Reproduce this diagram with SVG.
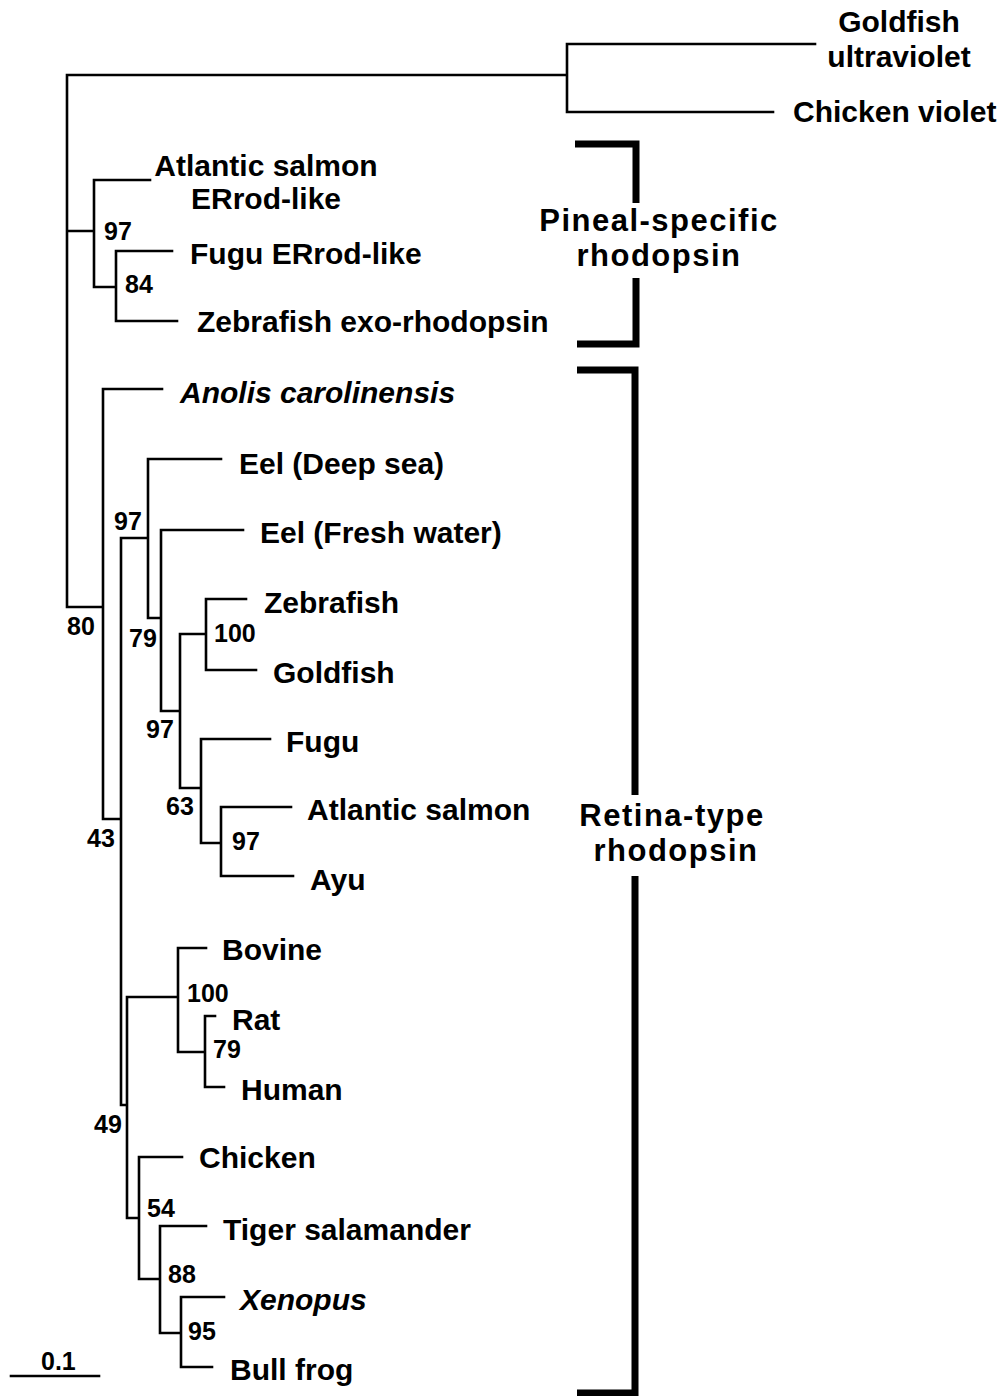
<svg xmlns="http://www.w3.org/2000/svg" width="1001" height="1396" viewBox="0 0 1001 1396">
<style>
.leaf{font-family:"Liberation Sans",Arial,sans-serif;font-weight:bold;font-size:30px;fill:#000}
.it{font-style:italic}
.bs{font-family:"Liberation Sans",Arial,sans-serif;font-weight:bold;font-size:25px;fill:#000}
.grp{font-family:"Liberation Sans",Arial,sans-serif;font-weight:bold;font-size:31px;letter-spacing:1.5px;fill:#000;text-anchor:middle}
.br{fill:none;stroke:#000;stroke-width:2.6;stroke-linecap:square}
.bk{fill:none;stroke:#000;stroke-width:7;stroke-linejoin:miter}
</style>
<rect width="1001" height="1396" fill="#fff"/>
<g id="connectors">
<path class="br" d="M67,75 V607 M67,75 H567 M567,44 V112 M567,44 H815 M567,112 H773
M67,231 H94 M94,180 V287 M94,180 H150 M94,287 H116 M116,251 V321 M116,251 H172 M116,321 H177
M67,607 H103 M103,389 V819 M103,389 H162 M103,819 H121 M121,538 V1105 M121,538 H148
M148,459 V618 M148,459 H221 M148,618 H161 M161,530 V711 M161,530 H243 M161,711 H180
M180,634 V788 M180,634 H206 M206,599 V670 M206,599 H246 M206,670 H256
M180,788 H201 M201,739 V843 M201,739 H270 M201,843 H221 M221,807 V876 M221,807 H291 M221,876 H293
M121,1105 H127 M127,997 V1218 M127,997 H178 M178,948 V1052 M178,948 H206 M178,1052 H205
M205,1016 V1087 M205,1016 H215 M205,1087 H224
M127,1218 H139 M139,1157 V1279 M139,1157 H182 M139,1279 H160 M160,1226 V1333 M160,1226 H206
M160,1333 H181 M181,1297 V1367 M181,1297 H224 M181,1367 H212"/>
</g>
<g id="scale-bar">
<path class="br" d="M11,1376 H99"/>
<text class="bs" x="41" y="1370">0.1</text>
</g>
<g id="bootstrap">
<text class="bs" x="104" y="240">97</text>
<text class="bs" x="125" y="293">84</text>
<text class="bs" x="67" y="635">80</text>
<text class="bs" x="114" y="530">97</text>
<text class="bs" x="129" y="647">79</text>
<text class="bs" x="214" y="642">100</text>
<text class="bs" x="146" y="738">97</text>
<text class="bs" x="166" y="815">63</text>
<text class="bs" x="232" y="850">97</text>
<text class="bs" x="87" y="847">43</text>
<text class="bs" x="187" y="1002">100</text>
<text class="bs" x="213" y="1058">79</text>
<text class="bs" x="94" y="1133">49</text>
<text class="bs" x="147" y="1217">54</text>
<text class="bs" x="168" y="1283">88</text>
<text class="bs" x="188" y="1340">95</text>
</g>
<g id="leaf-goldfish-uv"><text class="leaf" x="899" y="32" text-anchor="middle">Goldfish</text><text class="leaf" x="899" y="67" text-anchor="middle">ultraviolet</text></g>
<g id="leaf-chicken-violet"><text class="leaf" x="793" y="122">Chicken violet</text></g>
<g id="leaf-salmon-errod"><text class="leaf" x="266" y="176" text-anchor="middle">Atlantic salmon</text><text class="leaf" x="266" y="209" text-anchor="middle">ERrod-like</text></g>
<g id="leaf-fugu-errod"><text class="leaf" x="190" y="264">Fugu ERrod-like</text></g>
<g id="leaf-zebrafish-exo"><text class="leaf" x="197" y="332">Zebrafish exo-rhodopsin</text></g>
<g id="leaf-anolis"><text class="leaf it" x="180" y="403">Anolis carolinensis</text></g>
<g id="leaf-eel-deep"><text class="leaf" x="239" y="474">Eel (Deep sea)</text></g>
<g id="leaf-eel-fresh"><text class="leaf" x="260" y="543">Eel (Fresh water)</text></g>
<g id="leaf-zebrafish"><text class="leaf" x="264" y="613">Zebrafish</text></g>
<g id="leaf-goldfish"><text class="leaf" x="273" y="683">Goldfish</text></g>
<g id="leaf-fugu"><text class="leaf" x="286" y="752">Fugu</text></g>
<g id="leaf-salmon"><text class="leaf" x="307" y="820">Atlantic salmon</text></g>
<g id="leaf-ayu"><text class="leaf" x="310" y="890">Ayu</text></g>
<g id="leaf-bovine"><text class="leaf" x="222" y="960">Bovine</text></g>
<g id="leaf-rat"><text class="leaf" x="232" y="1030">Rat</text></g>
<g id="leaf-human"><text class="leaf" x="241" y="1100">Human</text></g>
<g id="leaf-chicken"><text class="leaf" x="199" y="1168">Chicken</text></g>
<g id="leaf-tiger"><text class="leaf" x="223" y="1240">Tiger salamander</text></g>
<g id="leaf-xenopus"><text class="leaf it" x="240" y="1310">Xenopus</text></g>
<g id="leaf-bullfrog"><text class="leaf" x="230" y="1380">Bull frog</text></g>
<g id="group-pineal">
<path class="bk" d="M575,144 H636 V203 M636,278 V344 H577"/>
<text class="grp" x="659" y="231">Pineal-specific</text>
<text class="grp" x="659" y="266">rhodopsin</text>
</g>
<g id="group-retina">
<path class="bk" d="M577,370 H635 V795 M635,876 V1393 H577"/>
<text class="grp" x="672" y="826">Retina-type</text>
<text class="grp" x="676" y="861">rhodopsin</text>
</g>
</svg>
